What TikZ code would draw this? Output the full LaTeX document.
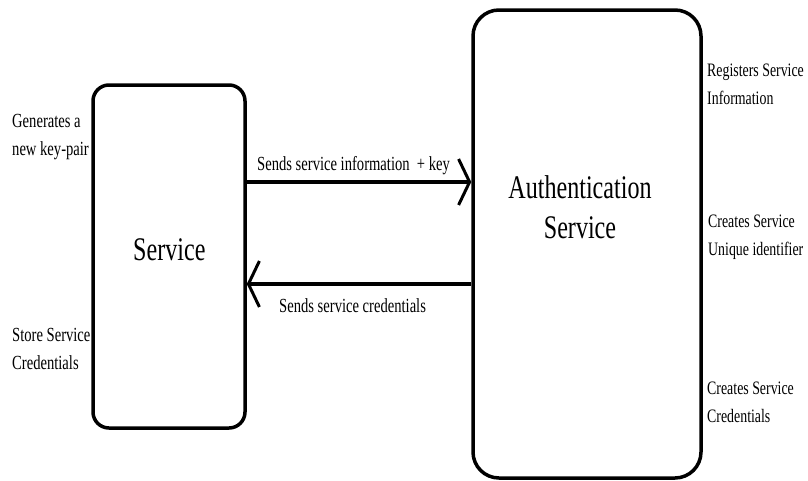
\documentclass[tikz,border=0pt]{standalone}
\usepackage{fontspec}
\setmainfont{Liberation Serif}[FakeStretch=0.73]
\usetikzlibrary{arrows.meta}
\begin{document}
\begin{tikzpicture}[x=1pt,y=-1pt,
  box/.style={draw=black,line width=3.5pt,rounded corners=#1,inner sep=0pt},
  lbl/.style={font=\fontsize{20}{28}\selectfont,align=left,anchor=north west,inner sep=0pt},
  rlbl/.style={lbl,font=\fontsize{19}{28}\selectfont},
  arlbl/.style={font=\fontsize{20}{28}\selectfont,anchor=base west,inner sep=0pt},
  big/.style={font=\fontsize{33}{40}\selectfont,inner sep=0pt},
  flow/.style={line width=3.5pt,-{Straight Barb[length=11pt,width=46pt,line width=3pt]}}]
\useasboundingbox (0,0) rectangle (808,480);
\node[box=16pt,minimum width=152pt,minimum height=343pt] (svc) at (169,256.5) {};
\node[box=26pt,minimum width=228pt,minimum height=468pt] (auth) at (587,244) {};
\node[big,anchor=base west] (svct) at (133,260) {Service};
\node[big,align=center,anchor=north] (autht) at (580,175) {Authentication\\Service};
\coordinate (y1) at (0,182);
\coordinate (y2) at (0,284);
\draw[flow] (svc.east |- y1) -- (auth.west |- y1);
\draw[flow] (auth.west |- y2) -- (svc.east |- y2);
\node[arlbl] (l1) at (257,170) {Sends service information \ + key};
\node[arlbl] (l2) at (279,312) {Sends service credentials};
\node[lbl] (gen) at (12,114) {Generates a\\new key-pair};
\node[lbl] (store) at (12,328) {Store Service\\Credentials};
\node[rlbl] (reg) at (707,64) {Registers Service\\Information};
\node[rlbl] (uid) at (708,215) {Creates Service\\Unique identifier};
\node[rlbl] (cred) at (707,382) {Creates Service\\Credentials};
\end{tikzpicture}
\end{document}
